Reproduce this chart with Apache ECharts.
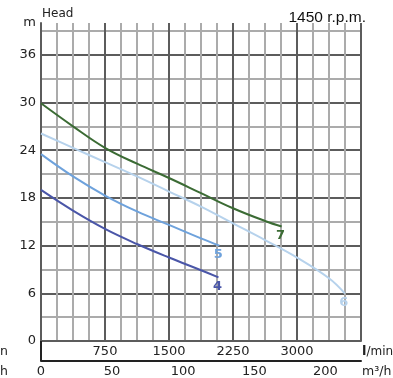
<!DOCTYPE html>
<html>
<head>
<meta charset="utf-8">
<script src="https://cdn.jsdelivr.net/npm/echarts@6/dist/echarts.min.js"></script>
<style>
  html, body { margin: 0; padding: 0; background: #fff; }
  #pumpCurves { width: 393px; height: 378px; }
</style>
</head>
<body>
<div id="pumpCurves"></div>
<script>
// flow in l/min, head in m
var q7 = [0, 375, 750, 1125, 1500, 1875, 2250, 2625, 2820];
var h7 = [29.9, 27.0, 24.3, 22.3, 20.5, 18.6, 16.7, 15.1, 14.4];
var q6 = [0, 375, 750, 1125, 1500, 1875, 2250, 2625, 3000, 3375, 3560];
var h6 = [26.1, 24.3, 22.5, 20.7, 18.8, 16.9, 14.8, 12.7, 10.5, 7.9, 6.0];
var q5 = [0, 375, 750, 1125, 1500, 1875, 2090];
var h5 = [23.5, 20.7, 18.3, 16.3, 14.6, 12.9, 12.0];
var q4 = [0, 375, 750, 1125, 1500, 1875, 2080];
var h4 = [19.0, 16.4, 14.1, 12.2, 10.5, 8.9, 8.0];

var curveNames = ["7", "6", "5", "4"];
var curveColors = ["#3b6b34", "#b6d2ec", "#6ea2dc", "#4a56a8"];

var flowLabels = [750, 1500, 2250, 3000];
var cubicLabels = [0, 50, 100, 150, 200];
var headLabels = [0, 6, 12, 18, 24, 30, 36];

var dark = "#5c5c5c";
var light = "#ababab";

function buildSeries(name, qs, hs, color) {
  var data = qs.map(function (q, i) {
    return [q, hs[i]];
  });
  return {
    name: name,
    type: "line",
    smooth: 0.4,
    symbol: "none",
    lineStyle: { color: color, width: 2 },
    endLabel: {
      show: true,
      formatter: name,
      color: color,
      fontSize: 13,
      fontWeight: "bold",
      fontFamily: "DejaVu Sans",
      align: "center",
      verticalAlign: "top",
      distance: 0,
      offset: [-1, 3],
    },
    data: data,
  };
}

var chart = echarts.init(document.getElementById("pumpCurves"));
var option = {
  animation: false,
  title: {
    text: "1450 r.p.m.",
    right: 22,
    top: 5,
    textStyle: { fontFamily: "Liberation Sans", fontSize: 15.5, fontWeight: "normal", color: "#111" },
  },
  grid: { left: 41, right: 32, top: 23, bottom: 35 },
  xAxis: [
    {
      type: "value",
      min: 0,
      max: 3750,
      interval: 187.5,
      axisLine: { show: true, lineStyle: { color: dark, width: 2 } },
      axisTick: { show: false },
      axisLabel: {
        margin: 4,
        fontFamily: "DejaVu Sans",
        fontSize: 13,
        color: "#222",
        formatter: function (v) {
          return flowLabels.indexOf(v) >= 0 ? String(v) : "";
        },
      },
      splitLine: {
        show: true,
        lineStyle: { color: [dark, light, light, light], width: 2 },
      },
    },
    {
      type: "value",
      position: "bottom",
      offset: 20,
      min: 0,
      max: 225,
      interval: 25,
      axisLine: { show: true, onZero: false, lineStyle: { color: "#222", width: 2 } },
      axisTick: {
        show: true,
        customValues: [0],
        inside: true,
        length: 20,
        lineStyle: { color: "#222", width: 2 },
      },
      axisLabel: {
        margin: 4,
        fontFamily: "DejaVu Sans",
        fontSize: 13,
        color: "#222",
        customValues: cubicLabels,
      },
      splitLine: { show: false },
    },
  ],
  yAxis: {
    type: "value",
    min: 0,
    max: 40,
    interval: 3,
    axisLine: { show: true, lineStyle: { color: dark, width: 2 } },
    axisTick: { show: false },
    axisLabel: {
      margin: 5,
      fontFamily: "DejaVu Sans",
      fontSize: 13,
      color: "#222",
      showMaxLabel: true,
      formatter: function (v) {
        if (v === 40) return "m";
        return headLabels.indexOf(v) >= 0 ? String(v) : "";
      },
    },
    splitLine: {
      show: true,
      showMaxLine: false,
      lineStyle: { color: [dark, light], width: 2 },
    },
  },
  graphic: [
    { type: "text", left: 42, top: 8, style: { text: "Head", fontFamily: "DejaVu Sans", fontSize: 12, fill: "#222" } },
    { type: "text", left: 362, top: 345, style: { text: "{b|l}/min", fontFamily: "DejaVu Sans", fontSize: 12, fill: "#222", rich: { b: { fontWeight: "bold", fontSize: 13, fontFamily: "DejaVu Sans" } } } },
    { type: "text", left: 362, top: 365, style: { text: "m³/h", fontFamily: "DejaVu Sans", fontSize: 12.5, fill: "#222" } },
    { type: "text", right: 385, top: 345, style: { text: "l/min", fontFamily: "DejaVu Sans", fontSize: 12.5, fill: "#222" } },
    { type: "text", right: 385, top: 365, style: { text: "m³/h", fontFamily: "DejaVu Sans", fontSize: 12.5, fill: "#222" } },
  ],
  series: [
    buildSeries(curveNames[0], q7, h7, curveColors[0]),
    buildSeries(curveNames[1], q6, h6, curveColors[1]),
    buildSeries(curveNames[2], q5, h5, curveColors[2]),
    buildSeries(curveNames[3], q4, h4, curveColors[3]),
  ],
};
chart.setOption(option, true);
</script>
</body>
</html>
